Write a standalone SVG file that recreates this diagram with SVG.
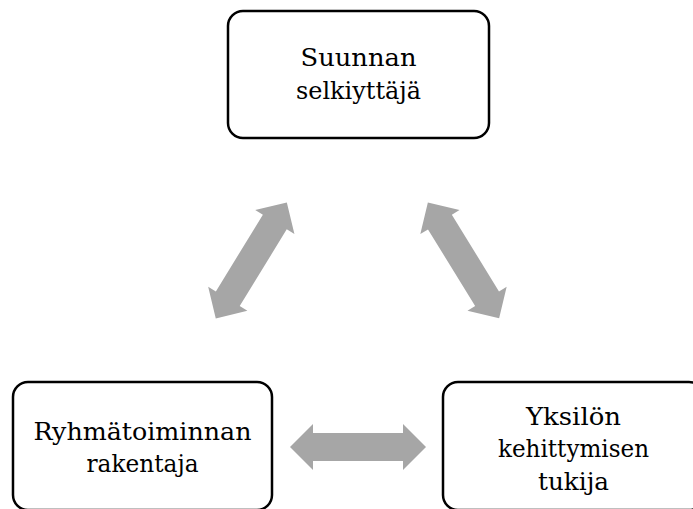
<svg xmlns="http://www.w3.org/2000/svg" width="693" height="509" viewBox="0 0 693 509">
<style>
.box{fill:#fff;stroke:#000;stroke-width:2.5}
.lbl{font-family:"DejaVu Serif",serif;font-size:25px;fill:#000;text-anchor:middle}
.arr{fill:#a6a6a6}
</style>
<defs>
<path id="dbl" d="M-68,0 L-45,-23 L-45,-14 L45,-14 L45,-23 L68,0 L45,23 L45,14 L-45,14 L-45,23 Z"/>
</defs>
<rect width="693" height="509" fill="#fff"/>
<g id="connectors">
<use href="#dbl" class="arr" transform="translate(251.3,260.4) rotate(-58.5)"/>
<use href="#dbl" class="arr" transform="translate(463.5,260.4) rotate(58.4)"/>
<use href="#dbl" class="arr" transform="translate(358,447)"/>
</g>
<g id="node-top">
<rect class="box" x="228" y="11" width="261" height="127" rx="15"/>
<text class="lbl" x="358.5" y="66" textLength="116" lengthAdjust="spacingAndGlyphs">Suunnan</text>
<text class="lbl" x="358.5" y="99" textLength="125" lengthAdjust="spacingAndGlyphs">selkiyttäjä</text>
</g>
<g id="node-left">
<rect class="box" x="13" y="382" width="259" height="128" rx="15"/>
<text class="lbl" x="142.5" y="440" textLength="218" lengthAdjust="spacingAndGlyphs">Ryhmätoiminnan</text>
<text class="lbl" x="142.5" y="472" textLength="112" lengthAdjust="spacingAndGlyphs">rakentaja</text>
</g>
<g id="node-right">
<rect class="box" x="443" y="382" width="261" height="128" rx="15"/>
<text class="lbl" x="573.5" y="425" textLength="95" lengthAdjust="spacingAndGlyphs">Yksilön</text>
<text class="lbl" x="573.5" y="457" textLength="151" lengthAdjust="spacingAndGlyphs">kehittymisen</text>
<text class="lbl" x="573.5" y="490" textLength="71" lengthAdjust="spacingAndGlyphs">tukija</text>
</g>
</svg>
